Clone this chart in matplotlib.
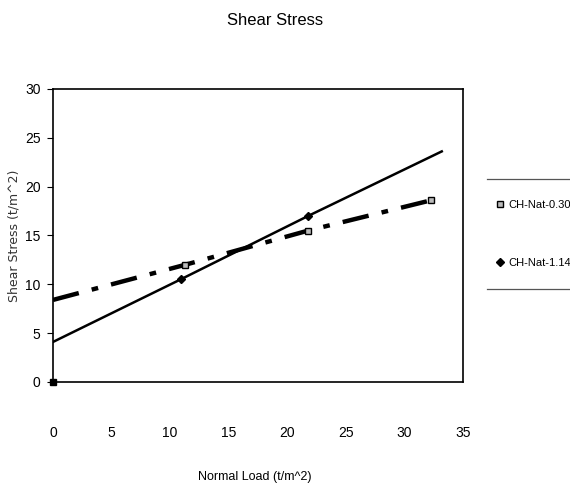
import numpy as np
import matplotlib.pyplot as plt
from matplotlib.lines import Line2D

# series
load_030 = [0, 11.3, 21.8, 32.3]
stress_030 = [8.4, 12.0, 15.5, 18.6]
load_114 = [0, 10.9, 21.8, 33.2]
stress_114 = [4.1, 10.5, 17.0, 23.6]
origin_x = [0]
origin_y = [0]

x_ticks = [0, 5, 10, 15, 20, 25, 30, 35]
y_ticks = [0, 5, 10, 15, 20, 25, 30]

plt.rcParams['font.family'] = ['Liberation Sans', 'DejaVu Sans']

fig = plt.figure(figsize=(5.7, 4.91), dpi=100)
ax = fig.add_axes([0.093, 0.222, 0.719, 0.597])

ax.plot(load_030, stress_030, color='black', lw=3.2,
        dashes=(6, 3, 1.5, 3), marker='s', ms=4.5, mfc='#bbbbbb', mec='black',
        markevery=[1, 2, 3], label='CH-Nat-0.30')
ax.plot(load_114, stress_114, color='black', lw=1.8,
        marker='D', ms=4, mfc='black', mec='black',
        markevery=[1, 2], label='CH-Nat-1.14')
ax.plot(origin_x, origin_y, 's', color='black', ms=4, clip_on=False)

ax.set_xlim(0, 35)
ax.set_ylim(0, 30)
ax.set_xticks(x_ticks)
ax.set_yticks(y_ticks)
ax.tick_params(axis='x', length=0, pad=32, labelsize=10)
ax.tick_params(axis='y', length=4, pad=5, labelsize=10)
for s in ax.spines.values():
    s.set_linewidth(1.2)

ax.set_ylabel('Shear Stress (t/m^2)', fontsize=9, family='DejaVu Sans',
              color='#333333', labelpad=3)
fig.text(0.447, 0.022, 'Normal Load (t/m^2)', fontsize=9, ha='center')
fig.text(0.482, 0.958, 'Shear Stress', fontsize=12, ha='center', va='center')

leg = ax.legend(loc='center left', bbox_to_anchor=(1.07, 0.505), frameon=False,
                fontsize=8, handlelength=0.5, handletextpad=0.5,
                labelspacing=4.3, borderpad=0)
for h in leg.legend_handles:
    h.set_linestyle('None')

# legend box shows only its top and bottom rules
for yy in (0.635, 0.412):
    fig.add_artist(Line2D([0.855, 1.0], [yy, yy], color='#555555', lw=0.9))

fig.savefig('out.png', dpi=100)
